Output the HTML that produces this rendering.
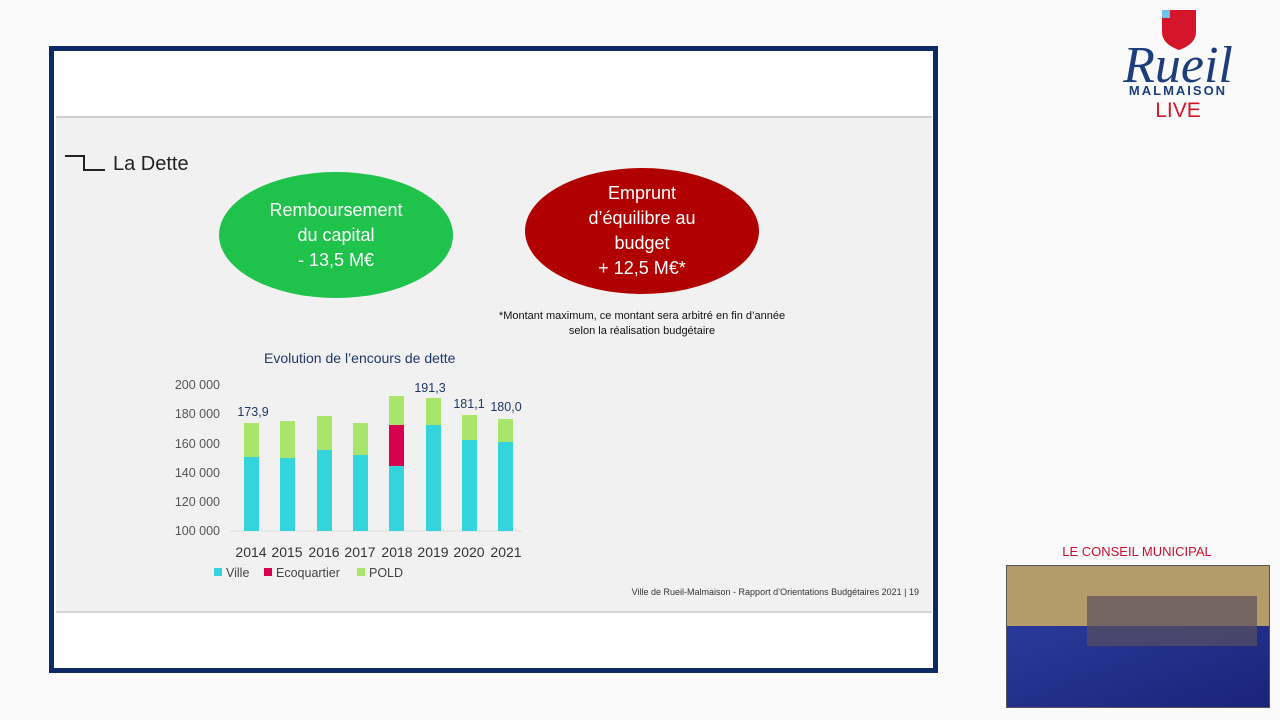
<!DOCTYPE html>
<html><head><meta charset="utf-8"><style>
body{margin:0;width:1280px;height:720px;background:#fafafa;position:relative;overflow:hidden;font-family:"Liberation Sans",sans-serif}
.frame{position:absolute;left:49px;top:46px;width:879px;height:617px;border:5px solid #0d2a66;background:#fff}
.slide{position:absolute;left:56px;top:116px;width:876px;height:493px;background:#f1f1f1;border-top:2px solid #cfcfcf;border-bottom:2px solid #d6d6d6}
.ell{position:absolute;border-radius:50%;color:#fff;text-align:center;font-size:18px;line-height:25px;display:flex;align-items:center;justify-content:center}
.t{position:absolute;white-space:nowrap}
</style></head><body>
<div class="frame"></div>
<div class="slide"></div>
<div style="position:absolute;left:65px;top:155px;width:20px;height:2px;background:#222"></div>
<div style="position:absolute;left:83px;top:155px;width:2px;height:14px;background:#222"></div>
<div style="position:absolute;left:83px;top:169px;width:22px;height:2px;background:#222"></div>
<div class="t" style="left:113px;top:153px;font-size:20px;color:#222">La Dette</div>
<div class="ell" style="left:219px;top:172px;width:234px;height:126px;background:#1fc24a">Remboursement<br>du capital<br>- 13,5 M€</div>
<div class="ell" style="left:525px;top:168px;width:234px;height:126px;background:#b00000">Emprunt<br>d’équilibre au<br>budget<br>+ 12,5 M€*</div>
<div class="t" style="left:470px;top:309px;width:344px;text-align:center;font-size:11px;line-height:15px;color:#111">*Montant maximum, ce montant sera arbitré en fin d’année<br>selon la réalisation budgétaire</div>
<div class="t" style="left:264px;top:350px;font-size:14px;color:#1f3864">Evolution de l’encours de dette</div>
<svg style="position:absolute;left:0;top:0" width="1280" height="720" font-family="Liberation Sans, sans-serif">
<g font-size="12.5" fill="#555" text-anchor="end">
<text x="220" y="389">200 000</text><text x="220" y="418">180 000</text><text x="220" y="448">160 000</text><text x="220" y="477">140 000</text><text x="220" y="506">120 000</text><text x="220" y="535">100 000</text></g>
<line x1="230" y1="531" x2="522" y2="531" stroke="#ddd"/>
<g>
<rect x="244" y="457" width="15" height="74" fill="#33d4dc"/><rect x="244" y="423" width="15" height="34" fill="#a8e56a"/>
<rect x="280" y="458" width="15" height="73" fill="#33d4dc"/><rect x="280" y="421" width="15" height="37" fill="#a8e56a"/>
<rect x="317" y="450" width="15" height="81" fill="#33d4dc"/><rect x="317" y="416" width="15" height="34" fill="#a8e56a"/>
<rect x="353" y="455" width="15" height="76" fill="#33d4dc"/><rect x="353" y="423" width="15" height="32" fill="#a8e56a"/>
<rect x="389" y="466" width="15" height="65" fill="#33d4dc"/><rect x="389" y="425" width="15" height="41" fill="#d6004e"/><rect x="389" y="396" width="15" height="29" fill="#a8e56a"/>
<rect x="426" y="425" width="15" height="106" fill="#33d4dc"/><rect x="426" y="398" width="15" height="27" fill="#a8e56a"/>
<rect x="462" y="440" width="15" height="91" fill="#33d4dc"/><rect x="462" y="415" width="15" height="25" fill="#a8e56a"/>
<rect x="498" y="442" width="15" height="89" fill="#33d4dc"/><rect x="498" y="419" width="15" height="23" fill="#a8e56a"/>
</g>
<g font-size="12.5" fill="#1f3864" text-anchor="middle">
<text x="253" y="416">173,9</text><text x="430" y="392">191,3</text><text x="469" y="408">181,1</text><text x="506" y="411">180,0</text></g>
<g font-size="14" fill="#333" text-anchor="middle">
<text x="251" y="557">2014</text><text x="287" y="557">2015</text><text x="324" y="557">2016</text><text x="360" y="557">2017</text><text x="397" y="557">2018</text><text x="433" y="557">2019</text><text x="469" y="557">2020</text><text x="506" y="557">2021</text></g>
<rect x="214" y="568" width="8" height="8" fill="#33d4dc"/><text x="226" y="577" font-size="12.5" fill="#444">Ville</text>
<rect x="264" y="568" width="8" height="8" fill="#d6004e"/><text x="276" y="577" font-size="12.5" fill="#444">Ecoquartier</text>
<rect x="357" y="568" width="8" height="8" fill="#a8e56a"/><text x="369" y="577" font-size="12.5" fill="#444">POLD</text>
<text x="919" y="595" font-size="9" fill="#333" text-anchor="end">Ville de Rueil-Malmaison - Rapport d’Orientations Budgétaires 2021 | 19</text>
<path d="M1162 10h34v22q0 12-17 18q-17-6-17-18z" fill="#d5162a"/>
<rect x="1162" y="10" width="8" height="8" fill="#6cc5e8"/>
<text x="1178" y="82" font-size="52" font-style="italic" font-family="Liberation Serif, serif" fill="#1d3e7c" text-anchor="middle">Rueil</text>
<text x="1178" y="95" font-size="13" font-weight="bold" letter-spacing="2" fill="#1d3e7c" text-anchor="middle">MALMAISON</text>
<text x="1178" y="117" font-size="21" fill="#d5162a" text-anchor="middle">LIVE</text>
<text x="1137" y="556" font-size="13" fill="#c8102e" text-anchor="middle">LE CONSEIL MUNICIPAL</text>
</svg>
<div style="position:absolute;left:1006px;top:565px;width:262px;height:141px;background:#1c2040;border:1px solid #555;overflow:hidden">
<div style="position:absolute;left:0;top:0;width:262px;height:70px;background:#b59a6a"></div>
<div style="position:absolute;left:0;top:60px;width:262px;height:81px;background:linear-gradient(160deg,#2a3a9a,#1a2378)"></div>
<div style="position:absolute;left:80px;top:30px;width:170px;height:50px;background:#5a5060;opacity:.7"></div>
</div>
</body></html>
